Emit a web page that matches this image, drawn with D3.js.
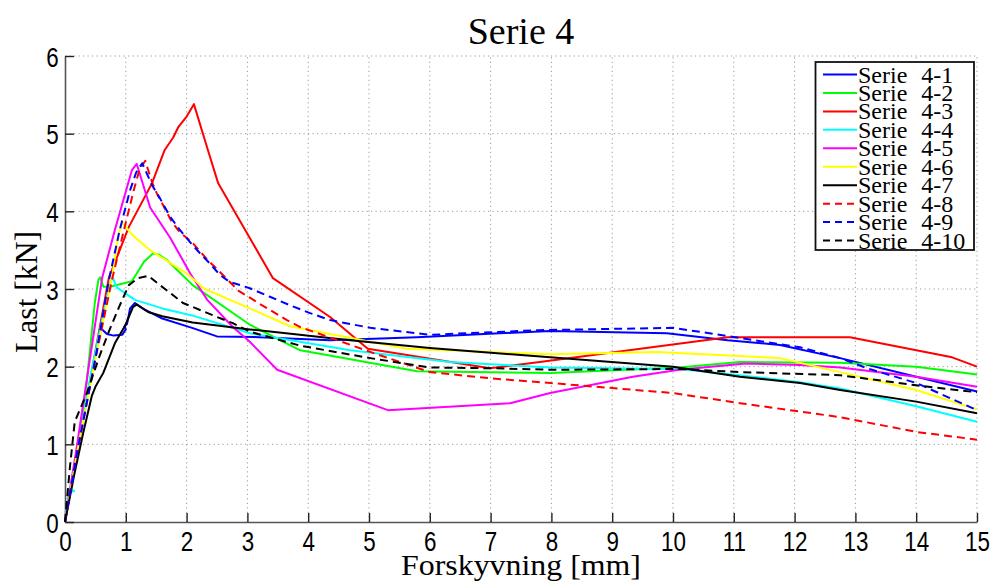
<!DOCTYPE html>
<html>
<head>
<meta charset="utf-8">
<script src="https://cdn.jsdelivr.net/npm/d3@7"></script>
<style>
  html, body { margin: 0; padding: 0; background: #fff; }
  svg { display: block; }
</style>
</head>
<body>
<svg id="chart" width="994" height="583"></svg>
<script>
// Load–displacement curves, series 4 (displacement in mm, load in kN)
const serie4_1 = [[0,0],[0.1,0.45],[0.3,1.35],[0.5,2.15],[0.58,2.5],[0.69,2.42],[0.8,2.4],[0.94,2.41],[1.0,2.48],[0.98,2.52],[1.02,2.55],[1.07,2.75],[1.15,2.82],[1.32,2.73],[1.6,2.62],[2.09,2.5],[2.5,2.39],[3.2,2.38],[4.36,2.34],[5.79,2.38],[7.98,2.46],[9.9,2.43],[10.9,2.34],[11.76,2.28],[12.75,2.11],[14.0,1.87],[15,1.68]];
const serie4_2 = [[0,0],[0.15,0.7],[0.35,1.75],[0.49,2.82],[0.55,3.12],[0.58,3.15],[0.63,3.03],[0.74,3.03],[1.1,3.1],[1.3,3.35],[1.45,3.46],[1.55,3.44],[1.68,3.37],[2.1,3.05],[3.04,2.54],[3.87,2.21],[5.79,1.94],[7.98,1.92],[10.1,1.99],[11.1,2.06],[12.75,2.05],[14.0,2.0],[15,1.9]];
const serie4_3 = [[0,0],[0.2,0.9],[0.5,2.2],[0.72,3.14],[1.05,3.8],[1.43,4.36],[1.64,4.79],[1.78,4.95],[1.86,5.08],[2.0,5.22],[2.12,5.38],[2.35,4.79],[2.52,4.36],[3.42,3.14],[4.36,2.64],[4.98,2.23],[6.99,1.98],[7.81,2.06],[10.9,2.38],[12.91,2.38],[14.59,2.12],[15,2.0]];
const serie4_4 = [[0,0],[0.06,0.38],[0.15,0.4],[0.08,0.42],[0.2,0.95],[0.45,2.0],[0.65,2.75],[0.75,3.1],[0.79,3.14],[0.85,3.02],[1.15,2.86],[1.6,2.75],[2.09,2.66],[3.04,2.43],[4.69,2.21],[6.33,2.06],[7.98,1.99],[10.1,1.97],[11.1,1.89],[12.09,1.8],[12.75,1.72],[14.0,1.49],[15,1.29]];
const serie4_5 = [[0,0],[0.2,1.0],[0.4,2.05],[0.61,3.14],[0.82,3.76],[1.02,4.31],[1.1,4.53],[1.18,4.61],[1.4,4.05],[1.73,3.66],[2.06,3.2],[2.34,2.86],[2.76,2.51],[3.04,2.32],[3.49,1.96],[5.31,1.44],[7.32,1.53],[7.98,1.66],[9.34,1.87],[10.1,1.96],[11.2,2.04],[12.09,2.02],[12.75,1.99],[14.0,1.87],[15,1.74]];
const serie4_6 = [[0,0],[0.2,0.9],[0.5,2.1],[0.77,3.14],[0.88,3.7],[0.94,3.86],[1.1,3.7],[1.4,3.5],[2.0,3.2],[2.3,3.0],[3.04,2.75],[3.7,2.52],[5.62,2.23],[7.98,2.16],[9.74,2.19],[11.76,2.11],[12.75,1.93],[14.0,1.7],[15,1.45]];
const serie4_7 = [[0,0],[0.15,0.6],[0.3,1.15],[0.44,1.62],[0.5,1.74],[0.63,1.92],[0.82,2.3],[0.99,2.53],[1.12,2.77],[1.18,2.8],[1.38,2.7],[1.6,2.65],[2.1,2.57],[3.04,2.48],[4.69,2.34],[6.0,2.24],[7.98,2.12],[10.0,2.0],[11.1,1.87],[12.09,1.79],[12.75,1.7],[14.0,1.55],[15,1.4]];
const serie4_8 = [[0,0],[0.2,0.9],[0.5,2.1],[0.77,3.11],[0.97,3.76],[1.13,4.27],[1.23,4.55],[1.32,4.65],[1.43,4.38],[1.51,4.23],[1.64,4.04],[1.76,3.86],[1.89,3.73],[2.09,3.6],[2.35,3.37],[2.52,3.24],[2.85,2.98],[3.2,2.81],[3.65,2.6],[3.87,2.51],[5.02,2.19],[6.0,1.93],[6.99,1.85],[7.98,1.79],[10.0,1.66],[11.1,1.53],[12.75,1.35],[14.0,1.16],[15,1.06]];
const serie4_9 = [[0,0],[0.2,0.9],[0.5,2.1],[0.72,3.11],[0.9,3.76],[1.07,4.27],[1.17,4.5],[1.27,4.62],[1.43,4.34],[1.56,4.17],[1.73,3.93],[1.89,3.76],[2.06,3.6],[2.22,3.46],[2.38,3.33],[2.55,3.18],[2.71,3.09],[2.88,3.05],[3.04,3.01],[3.37,2.9],[3.7,2.79],[4.03,2.69],[4.36,2.6],[5.02,2.5],[6.0,2.41],[7.81,2.47],[10.0,2.5],[10.94,2.39],[12.09,2.25],[12.75,2.11],[13.19,1.98],[14.0,1.79],[15,1.44]];
const serie4_10 = [[0,0],[0.08,0.7],[0.16,1.29],[0.36,1.66],[0.56,2.12],[0.72,2.45],[0.89,2.77],[1.05,3.05],[1.2,3.14],[1.37,3.17],[1.56,3.05],[1.73,2.95],[1.94,2.82],[2.22,2.73],[2.5,2.64],[2.76,2.56],[3.04,2.45],[3.87,2.27],[5.02,2.11],[6.0,1.99],[7.0,1.98],[8.0,1.96],[10.1,1.97],[11.1,1.93],[12.75,1.89],[14.0,1.76],[15,1.67]];

const seriesNames = ["Serie 4-1","Serie 4-2","Serie 4-3","Serie 4-4","Serie 4-5","Serie 4-6","Serie 4-7","Serie 4-8","Serie 4-9","Serie 4-10"];
const seriesData = [serie4_1, serie4_2, serie4_3, serie4_4, serie4_5, serie4_6, serie4_7, serie4_8, serie4_9, serie4_10];
const seriesColors = ["#0000ff","#00ff00","#ff0000","#00ffff","#ff00ff","#ffff00","#000000","#ff0000","#0000ff","#000000"];
const seriesDashed = [false,false,false,false,false,false,false,true,true,true];

const xTicks = [0,1,2,3,4,5,6,7,8,9,10,11,12,13,14,15];
const yTicks = [0,1,2,3,4,5,6];

const titleText = "Serie 4";
const xLabel = "Forskyvning [mm]";
const yLabel = "Last [kN]";

// ---- layout ----
const plot = { left: 65, right: 977, top: 56, bottom: 522 };
const svg = d3.select("#chart");

const x = d3.scaleLinear().domain([0, 15]).range([plot.left, plot.right]);
const y = d3.scaleLinear().domain([0, 6]).range([plot.bottom, plot.top]);

const serif = "'Liberation Serif', 'DejaVu Serif', serif";
const sans = "'Liberation Sans', Arial, sans-serif";

// dotted grid
const grid = svg.append("g").attr("stroke", "#9a9a9a").attr("stroke-width", 1)
  .attr("stroke-dasharray", "1.2,3.3");
grid.selectAll("line.gx").data(xTicks.filter(d => d > 0)).join("line")
  .attr("x1", d => x(d)).attr("x2", d => x(d))
  .attr("y1", plot.bottom).attr("y2", plot.top);
grid.selectAll("line.gy").data(yTicks.filter(d => d > 0)).join("line")
  .attr("x1", plot.left).attr("x2", plot.right)
  .attr("y1", d => y(d)).attr("y2", d => y(d));

// axes with inward ticks
const xAxis = svg.append("g").attr("transform", `translate(0,${plot.bottom})`)
  .call(d3.axisBottom(x).tickValues(xTicks).tickFormat(d3.format("d"))
    .tickSizeInner(-9).tickSizeOuter(0).tickPadding(9));
const yAxis = svg.append("g").attr("transform", `translate(${plot.left},0)`)
  .call(d3.axisLeft(y).tickValues(yTicks).tickFormat(d3.format("d"))
    .tickSizeInner(-9).tickSizeOuter(0).tickPadding(7));

[xAxis, yAxis].forEach(g => {
  g.select(".domain").attr("stroke", "#555").attr("stroke-width", 1.6);
  g.selectAll(".tick line").attr("stroke", "#222").attr("stroke-width", 1.4);
  g.selectAll(".tick text").attr("font-family", sans).attr("font-size", 28)
    .attr("fill", "#000");
});
xAxis.selectAll(".tick text").attr("dy", null).attr("y", 29)
  .attr("transform", "scale(0.8,1)");
yAxis.selectAll(".tick text").attr("dy", "0.36em").attr("x", -8)
  .attr("transform", "scale(0.8,1)");

// curves
const line = d3.line().x(d => x(d[0])).y(d => y(d[1]));
svg.append("g").selectAll("path").data(seriesData).join("path")
  .attr("d", line)
  .attr("fill", "none")
  .attr("stroke", (d, i) => seriesColors[i])
  .attr("stroke-width", 2)
  .attr("stroke-linejoin", "round")
  .attr("stroke-dasharray", (d, i) => seriesDashed[i] ? "8,5" : null);

// title and axis labels
svg.append("text").attr("x", 521).attr("y", 44).attr("text-anchor", "middle")
  .attr("font-family", serif).attr("font-size", 38).text(titleText);
svg.append("text").attr("x", 521).attr("y", 575).attr("text-anchor", "middle")
  .attr("font-family", serif).attr("font-size", 30)
  .attr("textLength", 240).attr("lengthAdjust", "spacingAndGlyphs").text(xLabel);
svg.append("text").attr("transform", "translate(37,292) rotate(-90)")
  .attr("text-anchor", "middle")
  .attr("font-family", serif).attr("font-size", 31)
  .attr("textLength", 122).attr("lengthAdjust", "spacingAndGlyphs").text(yLabel);

// legend
const legend = svg.append("g");
legend.append("rect").attr("x", 815.5).attr("y", 62).attr("width", 158.5).attr("height", 188)
  .attr("fill", "#fff").attr("stroke", "#111").attr("stroke-width", 1.8);
const rowY = i => 74.5 + i * 18.45;
const items = legend.selectAll("g.item").data(seriesNames).join("g");
items.append("line")
  .attr("x1", 823).attr("x2", 857)
  .attr("y1", (d, i) => rowY(i)).attr("y2", (d, i) => rowY(i))
  .attr("stroke", (d, i) => seriesColors[i]).attr("stroke-width", 2)
  .attr("stroke-dasharray", (d, i) => seriesDashed[i] ? "7,5" : null);
items.append("text")
  .attr("x", 858).attr("y", (d, i) => rowY(i) + 8)
  .attr("font-family", serif).attr("font-size", 24)
  .attr("word-spacing", 8)
  .text(d => d);
</script>
</body>
</html>
